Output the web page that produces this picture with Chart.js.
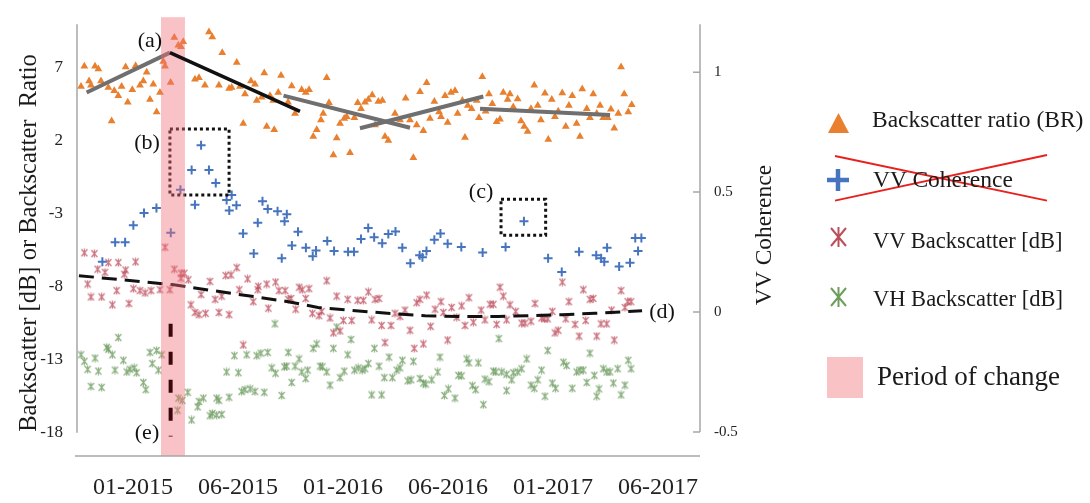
<!DOCTYPE html>
<html>
<head>
<meta charset="utf-8">
<script src="https://cdn.jsdelivr.net/npm/chart.js@4.4.1/dist/chart.umd.min.js"></script>
<style>
  html, body { margin: 0; padding: 0; background: #fff; }
  #wrap { position: relative; width: 1090px; height: 503px; }
  #myChart { position: absolute; left: 0; top: 0; }
  #lgsvg { position: absolute; left: 800px; top: 100px; }
  .lg { position: absolute; font-family: "Liberation Serif", "Times New Roman", serif; color: #1a1a1a; white-space: nowrap; line-height: 1; }
</style>
</head>
<body>
<div id="wrap">
  <canvas id="myChart" width="1090" height="503"></canvas>
  <svg id="lgsvg" width="290" height="310" viewBox="0 0 290 310">
    <polygon points="28,33 49,33 38.5,13" fill="#E8802F"/>
    <path d="M27,80 H49 M38,69 V91" stroke="#4674BE" stroke-width="4.5"/>
    <path d="M31,128 L46,146 M46,128 L31,146 M38.5,127 V147" stroke="#B9505C" stroke-width="2"/>
    <path d="M31,188 L46,206 M46,188 L31,206 M38.5,187 V207" stroke="#6E9E5C" stroke-width="2"/>
    <line x1="35" y1="56" x2="247" y2="100.7" stroke="#E8201E" stroke-width="1.8"/>
    <line x1="35" y1="100.7" x2="247" y2="55" stroke="#E8201E" stroke-width="1.8"/>
    <rect x="27" y="257" width="36" height="41" fill="#F9C3C6"/>
  </svg>
  <div class="lg" style="left:872px;top:108px;font-size:23.5px">Backscatter ratio (BR)</div>
  <div class="lg" style="left:873px;top:168px;font-size:23.5px">VV Coherence</div>
  <div class="lg" style="left:873px;top:230px;font-size:22.5px">VV Backscatter [dB]</div>
  <div class="lg" style="left:873px;top:288px;font-size:22.5px">VH Backscatter [dB]</div>
  <div class="lg" style="left:877px;top:363px;font-size:27px">Period of change</div>
</div>
<script>
// x in months since 01-2015 (tick labels every half year, as on the original axis)
const xTickValues = [0, 6, 12, 18, 24, 30];
const xTickLabels = ["01-2015", "06-2015", "01-2016", "06-2016", "01-2017", "06-2017"];
const yTickValues = [-18, -13, -8, -3, 2, 7];
const y2TickValues = [-0.5, 0, 0.5, 1];
const changePeriod = [1.6, 2.97];

// Backscatter ratio (BR) [month, value]
const brPoints = [
  [-2.97,5.73],[-2.78,7.11],[-2.51,6.11],[-2.4,5.81],[-2.17,7.11],[-1.98,6.93],[-1.83,6.11],[-1.41,5.66],
  [-1.22,3.36],[-1.07,5.44],[-0.84,5.10],[-0.65,5.73],[-0.42,7.07],[-0.30,4.65],[-0.04,5.51],[0.15,7.15],
  [0.4,5.81],[0.59,6.11],[0.78,6.71],[0.97,4.84],[1.16,5.88],[1.35,3.98],[1.54,5.32],[1.73,7.45],[1.83,7.11],
  [2.15,6.0],[2.36,9.08],[2.59,8.56],[2.74,8.45],[2.87,8.79],[3.54,6.22],[3.77,6.33],[4.11,5.81],[4.34,9.46],
  [4.53,9.12],[4.91,5.81],[5.10,8.05],[5.49,5.59],[5.64,5.66],[5.93,7.38],[6.11,5.73],[6.3,3.2],[6.4,5.21],
  [6.74,6.11],[6.97,5.88],[7.07,4.77],[7.35,4.99],[7.5,6.66],[7.64,2.98],[7.83,5.10],[8.02,4.77],[8.07,2.76],
  [8.3,5.32],[8.46,6.48],[8.86,4.65],[9.07,5.77],[9.26,3.87],[9.64,5.5],[9.87,5.32],[10.06,5.5],[10.3,2.31],
  [10.5,2.76],[10.74,3.43],[10.87,3.87],[11.07,6.33],[11.2,4.61],[11.45,1.04],[11.64,2.2],[11.83,3.2],
  [12.07,3.53],[12.21,3.65],[12.4,1.19],[12.65,3.58],[12.84,4.61],[13.03,4.2],[13.26,4.65],[13.45,4.84],
  [13.67,5.14],[13.83,3.09],[14.02,4.7],[14.25,4.77],[14.4,2.31],[14.59,2.02],[14.97,3.87],[15.26,3.43],
  [15.58,4.92],[15.83,3.43],[16.02,0.85],[16.21,3.09],[16.4,5.37],[16.59,2.69],[16.78,5.99],[16.97,3.53],
  [17.22,4.7],[17.49,3.98],[17.6,3.65],[17.83,5.10],[17.98,3.26],[18.17,5.32],[18.4,5.44],[18.55,3.87],
  [18.82,4.77],[18.97,2.24],[19.13,4.43],[19.35,4.2],[19.64,4.77],[19.77,3.58],[19.96,6.4],[20.15,4.03],
  [20.34,5.21],[20.53,4.54],[20.78,3.31],[20.97,3.49],[21.16,5.32],[21.41,4.84],[21.54,5.21],[21.73,4.32],
  [21.98,4.88],[22.17,3.36],[22.36,2.98],[22.55,2.64],[22.74,4.2],[22.93,5.81],[23.13,4.43],[23.31,3.43],
  [23.54,5.26],[23.73,2.09],[23.93,4.84],[24.11,3.65],[24.3,4.03],[24.53,5.28],[24.73,2.98],[24.91,4.43],
  [25.1,5.10],[25.35,3.2],[25.54,2.31],[25.67,5.55],[25.93,4.2],[26.11,3.58],[26.3,5.21],[26.5,3.87],
  [26.69,4.43],[26.87,3.58],[27.13,3.58],[27.31,4.17],[27.5,2.87],[27.73,3.87],[27.89,7.07],[28.07,5.21],
  [28.3,3.98],[28.5,4.47]
];

// VV coherence [month, coherence] (right axis)
const cohPoints = [
  [-1.75,0.21],[-1.02,0.291],[-0.45,0.291],[0.02,0.362],[0.63,0.413],[1.34,0.434],[2.16,0.331],[2.71,0.51],
  [3.35,0.592],[3.54,0.447],[3.89,0.695],[4.34,0.592],[4.73,0.538],[5.35,0.467],[5.5,0.423],[5.64,0.488],
  [5.91,0.445],[6.29,0.328],[6.9,0.244],[7.13,0.372],[7.4,0.462],[7.7,0.43],[8.26,0.42],[8.5,0.224],
  [8.66,0.379],[8.79,0.408],[9.08,0.278],[9.43,0.335],[9.88,0.268],[10.27,0.233],[10.46,0.257],[11.1,0.296],
  [11.49,0.255],[12.29,0.251],[12.63,0.251],[13.03,0.305],[13.44,0.35],[13.78,0.312],[14.24,0.287],
  [14.59,0.325],[15.0,0.336],[15.39,0.268],[15.85,0.203],[16.38,0.237],[16.54,0.228],[16.77,0.255],
  [17.22,0.301],[17.57,0.328],[17.98,0.285],[18.76,0.271],[19.98,0.248],[21.29,0.271],[22.34,0.379],
  [23.72,0.224],[24.5,0.167],[25.49,0.251],[26.47,0.237],[26.75,0.224],[26.93,0.21],[27.09,0.268],
  [27.78,0.19],[28.4,0.206],[28.7,0.309],[28.86,0.255],[29.05,0.309]
];

// VV backscatter [month, dB]
const vvPoints = [
  [-2.78,-5.67],[-2.21,-5.73],[-1.41,-6.34],[-0.84,-6.34],[0.15,-6.29],[-2.02,-6.79],[-1.6,-7.01],
  [-0.42,-6.85],[-0.5,-7.14],[-2.59,-7.81],[-0.93,-8.26],[0.02,-8.13],[0.4,-8.26],[0.69,-8.42],[1.03,-8.26],
  [-2.4,-8.70],[-1.79,-8.70],[-1.18,-9.24],[-0.23,-9.15],[1.83,-5.29],[1.54,-8.2],[2.11,-8.2],[2.36,-6.79],
  [2.74,-7.07],[2.93,-7.07],[2.74,-7.41],[3.16,-7.52],[3.89,-8.53],[3.31,-9.24],[3.54,-9.76],[3.77,-9.91],
  [4.15,-9.82],[4.91,-9.76],[5.49,-9.91],[4.4,-7.63],[4.69,-8.86],[5.07,-8.64],[5.3,-7.23],[5.6,-7.19],
  [5.93,-6.69],[6.07,-8.2],[6.55,-7.46],[7.16,-7.97],[7.13,-8.2],[7.64,-7.81],[7.73,-9.47],[8.15,-7.68],
  [8.34,-8.26],[6.87,-9.02],[6.3,-11.99],[8.69,-8.26],[8.87,-8.86],[9.03,-8.8],[9.49,-8.03],[9.67,-8.2],
  [10.06,-8.13],[9.87,-8.8],[9.3,-9.54],[10.25,-9.82],[10.63,-9.98],[10.78,-9.69],[11.07,-7.59],
  [11.26,-10.14],[11.64,-8.64],[11.45,-11.16],[11.83,-11.03],[12.02,-10.31],[12.27,-8.86],[12.5,-10.31],
  [12.84,-8.93],[13.16,-8.93],[13.45,-8.35],[13.83,-8.86],[14.06,-8.8],[13.64,-10.27],[14.21,-10.65],
  [14.74,-10.65],[14.4,-11.83],[14.97,-9.82],[15.26,-10.04],[15.54,-9.6],[15.83,-10.98],[16.07,-12.22],
  [16.21,-9.09],[16.4,-8.86],[16.78,-8.57],[16.59,-11.92],[17.01,-10.71],[17.26,-9.54],[17.6,-9.02],
  [17.73,-9.76],[17.98,-11.65],[18.21,-9.42],[18.5,-10.09],[18.78,-9.31],[18.97,-10.65],[19.2,-8.75],
  [19.45,-10.43],[19.89,-9.6],[20.11,-10.27],[20.4,-9.2],[20.59,-9.2],[20.78,-10.58],[20.97,-8.03],
  [21.16,-8.64],[21.54,-9.24],[21.35,-10.27],[21.87,-9.69],[22.21,-10.49],[22.4,-10.49],[22.74,-10.36],
  [22.97,-9.15],[23.35,-10.14],[23.5,-10.2],[23.7,-10.2],[23.96,-9.69],[24.11,-11.16],[24.3,-10.98],
  [24.53,-7.68],[24.73,-10.2],[24.91,-9.02],[25.26,-10.58],[25.49,-11.38],[25.73,-8.2],[26.11,-8.86],
  [26.3,-8.8],[25.87,-10.31],[26.5,-11.38],[26.74,-10.54],[27.07,-10.54],[27.35,-9.6],[27.5,-11.65],
  [27.89,-8.26],[28.11,-9.42],[28.27,-9.02],[28.46,-9.02]
];

// VH backscatter [month, dB]
const vhPoints = [
  [-0.84,-11.48],[-1.5,-12.15],[-1.41,-12.28],[-2.97,-12.66],[-2.78,-13.11],[-2.17,-12.89],[-1.18,-12.66],
  [-0.55,-13.04],[-2.59,-13.66],[-1.98,-13.78],[-1.03,-13.71],[-0.36,-13.84],[-0.17,-13.66],[0.07,-13.56],
  [0.21,-13.89],[0.97,-12.5],[1.35,-12.37],[1.1,-13.26],[1.64,-12.66],[1.45,-13.71],[-2.4,-14.83],
  [-1.79,-14.9],[0.59,-14.56],[0.73,-15.05],[2.59,-15.63],[2.82,-15.79],[3.13,-15.23],[2.55,-16.46],
  [3.35,-17.13],[3.7,-16.24],[3.77,-15.86],[4.02,-15.63],[4.4,-16.84],[4.53,-16.68],[4.78,-16.79],
  [5.07,-16.75],[4.78,-15.63],[4.91,-15.79],[5.49,-15.57],[6.21,-15.18],[6.4,-15.05],[6.69,-15.0],
  [6.97,-15.18],[7.5,-15.23],[8.5,-15.45],[5.35,-13.84],[6.02,-13.89],[5.79,-12.72],[6.5,-12.66],
  [7.07,-12.72],[7.31,-12.55],[7.7,-12.5],[7.93,-13.56],[8.15,-13.93],[8.65,-13.49],[8.87,-12.5],
  [8.11,-10.54],[9.49,-12.95],[8.78,-13.44],[9.26,-13.44],[9.64,-13.84],[9.98,-13.71],[9.07,-14.56],
  [9.87,-14.29],[10.3,-12.22],[10.5,-11.92],[10.69,-13.44],[10.82,-13.49],[11.07,-13.84],[11.45,-12.22],
  [11.26,-14.74],[11.64,-10.76],[11.83,-14.23],[12.07,-13.78],[12.27,-12.66],[12.46,-11.61],[12.65,-13.71],
  [12.87,-13.56],[13.1,-13.71],[13.26,-13.62],[13.45,-13.26],[13.64,-15.41],[14.21,-15.41],[13.79,-12.22],
  [14.06,-13.44],[14.36,-14.23],[14.82,-14.23],[14.63,-12.82],[15.07,-13.71],[15.26,-13.56],[15.39,-13.04],
  [15.7,-14.45],[15.89,-14.38],[16.02,-13.11],[16.4,-14.29],[16.59,-14.6],[16.73,-14.67],[17.07,-14.38],
  [17.41,-13.84],[17.54,-12.82],[18.02,-15.0],[17.79,-15.45],[18.4,-15.63],[18.59,-14.07],[18.78,-14.11],
  [19.07,-12.95],[19.2,-13.22],[19.73,-13.22],[19.39,-14.78],[19.58,-15.05],[20.02,-16.08],[20.11,-14.33],
  [20.34,-14.51],[20.59,-13.78],[20.73,-13.84],[20.91,-11.55],[21.07,-13.84],[21.35,-14.0],[21.64,-14.38],
  [21.73,-13.89],[21.98,-13.84],[21.35,-15.12],[22.21,-13.62],[22.5,-12.95],[22.74,-14.74],[22.93,-14.96],
  [23.13,-14.38],[23.35,-13.71],[23.54,-15.5],[23.7,-12.37],[23.96,-14.6],[24.15,-14.96],[24.59,-13.17],
  [24.78,-13.4],[25.1,-14.96],[25.35,-13.84],[25.54,-13.71],[25.73,-13.71],[25.93,-14.56],[26.11,-12.55],
  [26.36,-14.07],[26.63,-15.0],[26.5,-15.5],[26.87,-13.62],[27.07,-13.84],[27.26,-13.84],[27.45,-14.6],
  [27.7,-13.62],[27.89,-15.41],[28.11,-14.74],[28.3,-13.04],[28.46,-13.62]
];

// piecewise BR trends
const brTrendGray = [
  [[-2.65, 5.32], [2.11, 8.05]],
  [[8.6, 5.1], [15.83, 2.9]],
  [[12.97, 2.87], [20.02, 5.04]],
  [[19.83, 4.2], [27.26, 3.78]]
];
const brTrendBlack = [[2.11, 8.05], [9.54, 4.02]];

// VV backscatter trend (d)
const vvTrend = [
  [-3.09,-7.24],[2.23,-7.85],[8.86,-9.02],[10.57,-9.42],[12.51,-9.62],[14.97,-9.86],[16.69,-9.98],
  [18.69,-10.04],[20.86,-10.04],[22.57,-9.98],[24.51,-9.91],[26.4,-9.82],[29.09,-9.64]
];
// (e) change marker
const changeLine = [[2.15, -10.54], [2.15, -18.27]];

// dotted boxes (b) and (c): [xMin, xMax, yMin, yMax]
const boxB = [2.11, 5.49, -1.71, 2.82];
const boxC = [21.03, 23.58, -4.46, -2.0];

const notes = [
  ["(a)", 0.97, 8.81],
  ["(b)", 0.8, 1.84],
  ["(c)", 19.89, -1.51],
  ["(d)", 30.23, -9.76],
  ["(e)", 0.8, -18.07]
];

const SERIF = "'Liberation Serif', 'Times New Roman', serif";

const toPts = arr => arr.map(([x, y]) => ({ x, y }));
const boxPts = b => [[b[0], b[3]], [b[1], b[3]], [b[1], b[2]], [b[0], b[2]], [b[0], b[3]]];

function asterisk(color) {
  const c = document.createElement("canvas");
  c.width = 9; c.height = 9;
  const g = c.getContext("2d");
  g.strokeStyle = color;
  g.lineWidth = 1.2;
  g.beginPath();
  g.moveTo(1.5, 1); g.lineTo(7.5, 8);
  g.moveTo(7.5, 1); g.lineTo(1.5, 8);
  g.moveTo(4.5, 0.5); g.lineTo(4.5, 8.5);
  g.stroke();
  return c;
}

function lineSet(points, color, width, dash) {
  return {
    data: toPts(points),
    showLine: true,
    borderColor: color,
    borderWidth: width,
    borderDash: dash || [],
    pointRadius: 0,
    fill: false,
    yAxisID: "y"
  };
}

// datasets are drawn from the last index to the first; the band goes in after index 2,
// so the (e) marker and the black BR trend stay on top of it
const BAND_AFTER = 2;

const decor = {
  id: "decor",
  afterDatasetDraw(chart, args) {
    if (args.index !== BAND_AFTER) return;
    const { ctx, chartArea: a, scales: { x } } = chart;
    const x0 = x.getPixelForValue(changePeriod[0]);
    const x1 = x.getPixelForValue(changePeriod[1]);
    ctx.save();
    ctx.fillStyle = "rgba(240,110,120,0.42)";
    ctx.fillRect(x0, a.top - 7, x1 - x0, a.bottom - a.top + 7);
    ctx.restore();
  },
  afterDatasetsDraw(chart) {
    const { ctx, chartArea: a, scales } = chart;
    const { x, y, y2 } = scales;
    ctx.save();

    // axis lines
    ctx.strokeStyle = "#a6a6a6";
    ctx.lineWidth = 1.5;
    ctx.beginPath();
    ctx.moveTo(a.left, a.top);
    ctx.lineTo(a.left, y.getPixelForValue(yTickValues[0]));
    ctx.moveTo(a.right, a.top);
    ctx.lineTo(a.right, y2.getPixelForValue(y2TickValues[0]));
    y2TickValues.forEach(v => {
      const py = y2.getPixelForValue(v);
      ctx.moveTo(a.right - 7, py);
      ctx.lineTo(a.right, py);
    });
    ctx.moveTo(a.left - 2, a.bottom);
    ctx.lineTo(a.right, a.bottom);
    ctx.stroke();

    // annotation letters
    ctx.fillStyle = "#111";
    ctx.font = "22px " + SERIF;
    ctx.textAlign = "center";
    ctx.textBaseline = "middle";
    notes.forEach(([t, mx, my]) => {
      ctx.fillText(t, x.getPixelForValue(mx), y.getPixelForValue(my));
    });

    // axis titles (both read bottom to top)
    ctx.fillStyle = "#1a1a1a";
    ctx.font = "24.5px " + SERIF;
    ctx.translate(30, 243);
    ctx.rotate(-Math.PI / 2);
    ctx.fillText("Backscatter [dB] or Backscatter  Ratio", 0, 0);
    ctx.rotate(Math.PI / 2);
    ctx.translate(765 - 30, 235 - 243);
    ctx.rotate(-Math.PI / 2);
    ctx.font = "23.5px " + SERIF;
    ctx.fillText("VV Coherence", 0, 0);
    ctx.restore();
  }
};

const ctx = document.getElementById("myChart");

new Chart(ctx, {
  type: "scatter",
  data: {
    datasets: [
      lineSet(changeLine, "#3a080c", 4, [13, 15]),
      lineSet(brTrendBlack, "#111111", 3.5),
      lineSet(boxPts(boxB), "#111111", 3, [3, 3]),
      lineSet(vvTrend, "#111111", 3, [15, 8]),
      ...brTrendGray.map(seg => lineSet(seg, "#6f6f6f", 4)),
      lineSet(boxPts(boxC), "#111111", 3, [3, 3]),
      {
        label: "Backscatter ratio (BR)",
        data: toPts(brPoints),
        pointStyle: "triangle",
        pointRadius: 4.5,
        backgroundColor: "#E8802F",
        borderColor: "#E8802F",
        borderWidth: 0,
        yAxisID: "y"
      },
      {
        label: "VV Coherence",
        data: toPts(cohPoints),
        pointStyle: "cross",
        pointRadius: 4.5,
        borderColor: "#4674BE",
        borderWidth: 2,
        yAxisID: "y2"
      },
      {
        label: "VV Backscatter [dB]",
        data: toPts(vvPoints),
        pointStyle: asterisk("rgba(185,70,85,0.75)"),
        yAxisID: "y"
      },
      {
        label: "VH Backscatter [dB]",
        data: toPts(vhPoints),
        pointStyle: asterisk("rgba(100,150,85,0.75)"),
        yAxisID: "y"
      }
    ]
  },
  options: {
    responsive: false,
    animation: false,
    layout: { padding: { top: 15, right: 290, left: 0, bottom: 0 } },
    plugins: {
      legend: { display: false },
      tooltip: { enabled: false }
    },
    scales: {
      x: {
        type: "linear",
        min: -3.2,
        max: 32.4,
        grid: { display: false, drawTicks: false },
        border: { display: false },
        afterBuildTicks: s => { s.ticks = xTickValues.map(v => ({ value: v })); },
        afterFit: s => { s.height = 47; },
        ticks: {
          autoSkip: false,
          maxRotation: 0,
          padding: 17,
          color: "#222",
          font: { family: SERIF, size: 24 },
          callback: v => xTickLabels[xTickValues.indexOf(v)]
        }
      },
      y: {
        position: "left",
        min: -19.6,
        max: 10,
        grid: { display: false, drawTicks: false },
        border: { display: false },
        afterBuildTicks: s => { s.ticks = yTickValues.map(v => ({ value: v })); },
        afterFit: s => { s.width = 77; },
        ticks: { padding: 14, color: "#222", font: { family: SERIF, size: 17 }, callback: v => String(v) }
      },
      y2: {
        position: "right",
        min: -0.6,
        max: 1.2,
        grid: { display: false, drawTicks: false },
        border: { display: false },
        afterBuildTicks: s => { s.ticks = y2TickValues.map(v => ({ value: v })); },
        afterFit: s => { s.width = 100; },
        ticks: { padding: 14, color: "#222", font: { family: SERIF, size: 15 }, callback: v => String(v) }
      }
    }
  },
  plugins: [decor]
});
</script>
</body>
</html>
